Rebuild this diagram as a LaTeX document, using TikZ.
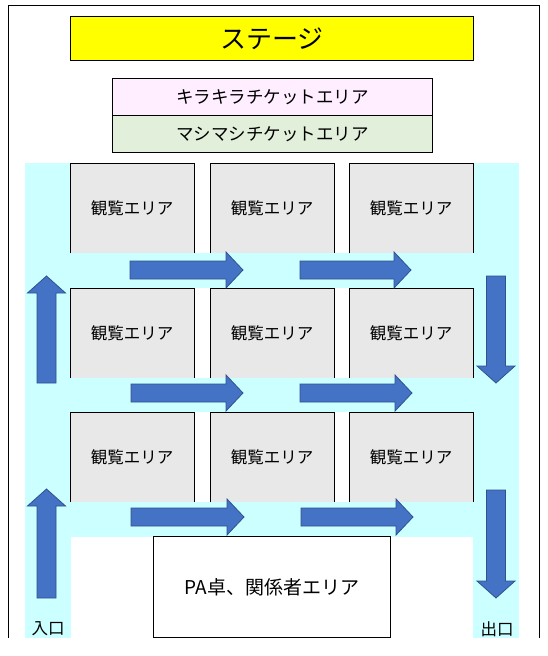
\documentclass[tikz,border=0pt]{standalone}
\usepackage{fontspec}
\setmainfont{Noto Sans CJK JP}
\definecolor{stageY}{HTML}{FFFF00}
\definecolor{kiraC}{HTML}{FFEEFF}
\definecolor{mashiC}{HTML}{E2EFDA}
\definecolor{aisleC}{HTML}{CCFFFF}
\definecolor{boxC}{HTML}{E8E8E8}
\definecolor{arrF}{HTML}{4472C4}
\definecolor{arrD}{HTML}{2F528F}
\tikzset{
  area/.style={draw=black, line width=0.9pt, inner sep=0pt, anchor=north west},
  viewbox/.style={fill=boxC, inner sep=0pt, anchor=north west, minimum width=124pt, minimum height=90pt, font=\fontsize{16.5}{18}\selectfont},
  edge3/.style={draw=black, line width=0.9pt},
  arrowst/.style={fill=arrF, draw=arrD, line width=0.8pt, line join=miter},
  aisle/.style={fill=aisleC, draw=none},
  gate/.style={inner sep=0pt, font=\fontsize{16.5}{18}\selectfont}
}
% horizontal arrow: x-start, y-center, x-tip
\newcommand{\myHarrow}[3]{%
  \filldraw[arrowst] (#1,#2-9) -- (#3-17,#2-9) -- (#3-17,#2-18) -- (#3,#2) -- (#3-17,#2+18) -- (#3-17,#2+9) -- (#1,#2+9) -- cycle;}
% vertical arrow: x-center, y-start (tail), y-tip, direction sign (+1 down, -1 up)
\newcommand{\myVarrow}[4]{%
  \filldraw[arrowst] (#1-9.5,#2) -- (#1-9.5,#3-#4*17) -- (#1-19,#3-#4*17) -- (#1,#3) -- (#1+19,#3-#4*17) -- (#1+9.5,#3-#4*17) -- (#1+9.5,#2) -- cycle;}
\begin{document}
\begin{tikzpicture}[x=1pt,y=-1pt]
\useasboundingbox (0,0) rectangle (547,656);
\fill[white] (0,0) rectangle (547,656);
\begin{scope}
\clip (0,0) rectangle (547,637);
% outer frame (open at bottom)
\draw[line width=0.9pt] (8,650) -- (8,5) -- (539,5) -- (539,650);
% aisles
\fill[aisle] (25,163) rectangle (71,650);
\fill[aisle] (473,163) rectangle (519,650);
\fill[aisle] (25,253) rectangle (519,288);
\fill[aisle] (25,378) rectangle (519,412);
\fill[aisle] (25,502) rectangle (519,537);
% stage and ticket areas
\node[area, fill=stageY, minimum width=403pt, minimum height=44pt, font=\fontsize{26}{30}\selectfont] (stage) at (70,16) {ステージ};
\node[area, fill=kiraC, minimum width=320pt, minimum height=37pt, font=\fontsize{17.5}{20}\selectfont] (kira) at (112,78) {キラキラチケットエリア};
\node[area, fill=mashiC, minimum width=320pt, minimum height=37pt, font=\fontsize{17.5}{20}\selectfont] (mashi) at (112,115) {マシマシチケットエリア};
% viewing areas
\foreach \r/\y in {1/163,2/288,3/412}{
  \foreach \c/\x in {1/70,2/210,3/349}{
    \node[viewbox] (v\r\c) at (\x,\y) {観覧エリア};
    \draw[edge3] (v\r\c.south west) -- (v\r\c.north west) -- (v\r\c.north east) -- (v\r\c.south east);
  }
}
% PA area
\node[area, fill=white, minimum width=237pt, minimum height=101pt, font=\fontsize{19}{22}\selectfont] (pa) at (153,536) {PA卓、関係者エリア};
% flow arrows
\myHarrow{130}{270}{243}
\myHarrow{300}{270}{411}
\myHarrow{131}{393}{243}
\myHarrow{300}{393}{412}
\myHarrow{131}{517}{244}
\myHarrow{301}{517}{413}
\myVarrow{46.5}{383}{276}{-1}
\myVarrow{46.5}{598}{489}{-1}
\myVarrow{496}{276}{383}{1}
\myVarrow{496}{490}{598}{1}
% gates
\node[gate] (entry) at (48,629) {入口};
\node[gate] (exit) at (497,629) {出口};
\end{scope}
\end{tikzpicture}
\end{document}
